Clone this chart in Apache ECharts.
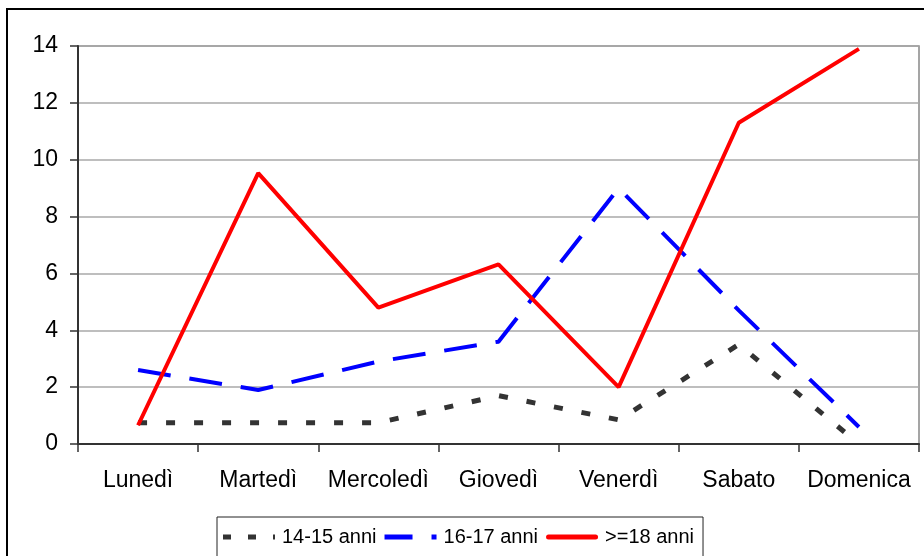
<!DOCTYPE html>
<html>
<head>
<meta charset="utf-8">
<script src="https://cdn.jsdelivr.net/npm/echarts@6/dist/echarts.min.js"></script>
<style>
html,body{margin:0;padding:0;background:#fff;}
#chart{width:924px;height:556px;}
</style>
</head>
<body>
<div id="chart"></div>
<script>
const categories = ['Lunedì','Martedì','Mercoledì','Giovedì','Venerdì','Sabato','Domenica'];
const seriesNames = ['14-15 anni','16-17 anni','>=18 anni'];
const age14_15 = [0.75, 0.75, 0.75, 1.7, 0.85, 3.5, 0];
const age16_17 = [2.6, 1.9, 2.9, 3.6, 9.0, 4.7, 0.6];
const age18plus = [0.66, 9.53, 4.8, 6.32, 2.0, 11.3, 13.9];
const yTicks = [0, 2, 4, 6, 8, 10, 12, 14];

const FONT = 'Liberation Sans, Arial, sans-serif';
const legendIcons = [
  'path://M0 0H8V5H0Z M25 0H33V5H25Z M50 0H52V5H50Z',
  'path://M0 0H28V5H0Z M47 0H52V5H47Z',
  'path://M2.5 0H49.5A2.5 2.5 0 0 1 49.5 5H2.5A2.5 2.5 0 0 1 2.5 0Z'
];
const chart = echarts.init(document.getElementById('chart'));
chart.setOption({
  animation: false,
  backgroundColor: '#fff',
  graphic: [{
    type: 'rect',
    shape: {x: 7, y: 9, width: 940, height: 580},
    style: {fill: 'none', stroke: '#000', lineWidth: 2},
    silent: true,
    z: -1
  }],
  grid: {
    left: 78, top: 46, right: 5, bottom: 112,
    show: true, borderColor: '#888', borderWidth: 1.5, backgroundColor: 'transparent'
  },
  legend: {
    data: seriesNames.map((n, i) => ({name: n, icon: legendIcons[i]})),
    left: 217, top: 517,
    padding: [10, 9, 40, 6],
    borderColor: '#222', borderWidth: 1,
    itemWidth: 52, itemHeight: 5, itemGap: 8,
    textStyle: {fontFamily: FONT, fontSize: 20, color: '#000', padding: [0, 0, 0, 2]}
  },
  xAxis: {
    type: 'category',
    data: categories,
    boundaryGap: true,
    axisLine: {lineStyle: {color: '#333', width: 2}},
    axisTick: {show: true, length: 8, alignWithLabel: false, lineStyle: {color: '#333', width: 1.5}},
    axisLabel: {fontFamily: FONT, fontSize: 23, color: '#000', margin: 25, interval: 0}
  },
  yAxis: {
    type: 'value',
    min: yTicks[0], max: yTicks[yTicks.length - 1], interval: 2,
    axisLine: {show: true, lineStyle: {color: '#333', width: 2}},
    axisTick: {show: true, length: 8, lineStyle: {color: '#333', width: 1.5}},
    axisLabel: {fontFamily: FONT, fontSize: 23, color: '#000', margin: 20},
    splitLine: {show: true, lineStyle: {color: '#a8a8a8', width: 1.5}}
  },
  series: [
    {
      name: seriesNames[0], type: 'line', data: age14_15,
      symbol: 'none', z: 3,
      color: '#333',
      lineStyle: {color: '#333', width: 5, type: [9, 19], cap: 'butt'}
    },
    {
      name: seriesNames[1], type: 'line', data: age16_17,
      symbol: 'none', z: 4,
      color: '#0000ff',
      lineStyle: {color: '#0000ff', width: 4, type: [33, 19], cap: 'butt'}
    },
    {
      name: seriesNames[2], type: 'line', data: age18plus,
      symbol: 'none', z: 5,
      color: '#ff0000',
      lineStyle: {color: '#ff0000', width: 4, type: 'solid'}
    }
  ]
});
</script>
</body>
</html>
